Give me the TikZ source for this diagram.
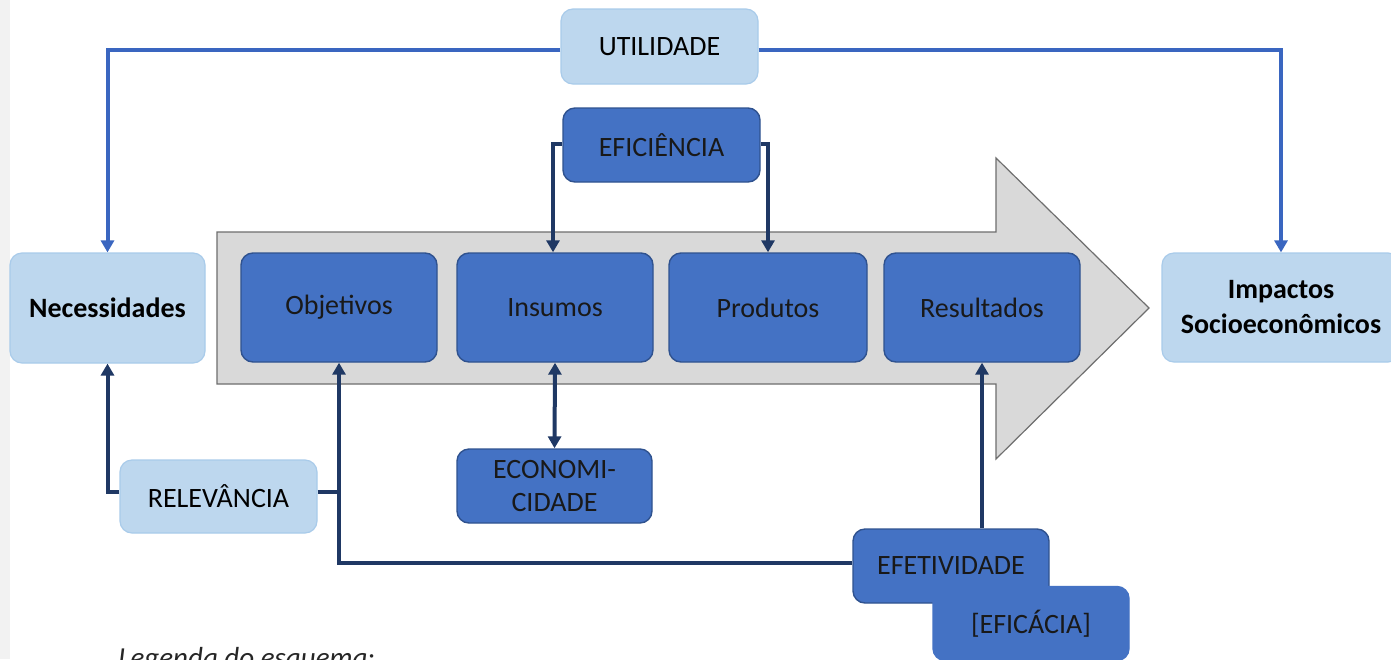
\documentclass[tikz,border=0pt]{standalone}
\usepackage{fontspec}
\setmainfont{Carlito}
\usetikzlibrary{arrows.meta}
\definecolor{lightbox}{HTML}{BDD7EE}
\definecolor{lightedge}{HTML}{A9CBEA}
\definecolor{darkbox}{HTML}{4472C4}
\definecolor{darkedge}{HTML}{2F528F}
\definecolor{midline}{HTML}{3A66C0}
\definecolor{navy}{HTML}{1F3864}
\definecolor{arrowgray}{HTML}{D9D9D9}
\definecolor{arrowedge}{HTML}{6E6E6E}
\definecolor{strip}{HTML}{F2F2F2}
\tikzset{
  lbox/.style={draw=lightedge, fill=lightbox, line width=0.6pt, rounded corners=6pt,
    inner sep=0pt, align=center, font=\fontsize{14}{17}\selectfont, text=black},
  dbox/.style={draw=darkedge, fill=darkbox, line width=0.7pt, rounded corners=6pt,
    inner sep=0pt, align=center, font=\fontsize{14}{17}\selectfont, text=black!90},
  bluearr/.style={draw=midline, line width=2pt, -{Triangle[width=6.5pt,length=6pt]}},
  navyarr/.style={draw=navy, line width=2pt, -{Triangle[width=6.5pt,length=6pt]}},
  navyline/.style={draw=navy, line width=2pt},
  navydbl/.style={draw=navy, line width=2pt, {Triangle[width=6.5pt,length=6pt]}-{Triangle[width=6.5pt,length=6pt]}},
}
\begin{document}
\begin{tikzpicture}[x=0.5pt,y=-0.5pt]
\useasboundingbox (0,0) rectangle (1391,659);
\fill[white] (0,0) rectangle (1391,659);
\fill[strip] (0,0) rectangle (10,659);
% big gray process arrow
\path[fill=arrowgray, draw=arrowedge, line width=0.6pt]
  (217,232) -- (996,232) -- (996,158) -- (1149,308) -- (996,459) -- (996,384) -- (217,384) -- cycle;
% nodes
\node[lbox, minimum width=98.5pt, minimum height=37.5pt] (util) at (659.5,46.5) {UTILIDADE};
\node[dbox, minimum width=98.5pt, minimum height=37pt] (efic) at (661.5,145) {EFICIÊNCIA};
\node[lbox, minimum width=97.5pt, minimum height=55pt, font=\fontsize{14}{17}\selectfont\bfseries] (nec) at (107.5,308) {Necessidades};
\node[dbox, minimum width=98pt, minimum height=54.5pt] (obj) at (339,307.5) {Objetivos};
\node[dbox, minimum width=98pt, minimum height=54.5pt] (ins) at (555,307.5) {Insumos};
\node[dbox, minimum width=99pt, minimum height=54.5pt] (prod) at (768,307.5) {Produtos};
\node[dbox, minimum width=98pt, minimum height=54.5pt] (res) at (982,307.5) {Resultados};
\node[lbox, minimum width=119pt, minimum height=54.5pt, font=\fontsize{14}{17.5}\selectfont\bfseries] (imp) at (1281,307.5) {Impactos\\Socioeconômicos};
\node[dbox, minimum width=97.5pt, minimum height=37pt, font=\fontsize{14}{16.5}\selectfont] (econ) at (554.5,486) {ECONOMI-\\CIDADE};
\node[lbox, minimum width=98.5pt, minimum height=36.5pt] (rel) at (218.5,496.5) {RELEVÂNCIA};
\node[dbox, minimum width=98pt, minimum height=37pt] (efet) at (951,566) {EFETIVIDADE};
\node[dbox, draw=darkbox, minimum width=98pt, minimum height=37pt] (efca) at (1031,623.5) {[EFICÁCIA]};
% legend text (cut by the page edge, as in the reference)
\node[anchor=base west, inner sep=0pt, font=\fontsize{14.5}{17}\selectfont\itshape, text=black!85] (leg) at (118,667) {Legenda do esquema:};
% connectors
\draw[bluearr] ([yshift=-1.75pt]util.west) -| (nec.north);
\draw[bluearr] ([yshift=-1.75pt]util.east) -| (imp.north);
\draw[navyarr] ([yshift=0.5pt]efic.west) -| ([xshift=-1pt]ins.north);
\draw[navyarr] ([yshift=0.5pt]efic.east) -| (prod.north);
\draw[navydbl] (ins.south) -- (econ.north);
\draw[navyarr] ([yshift=2.5pt]rel.west) -| (nec.south);
\draw[navyline] ([yshift=2.5pt]rel.east) -- ([yshift=2.5pt]obj.south |- rel.east);
\draw[navyarr] ([yshift=1.5pt]efet.west) -| (obj.south);
\draw[navyarr] (res.south |- efet.north) -- (res.south);
\end{tikzpicture}
\end{document}
